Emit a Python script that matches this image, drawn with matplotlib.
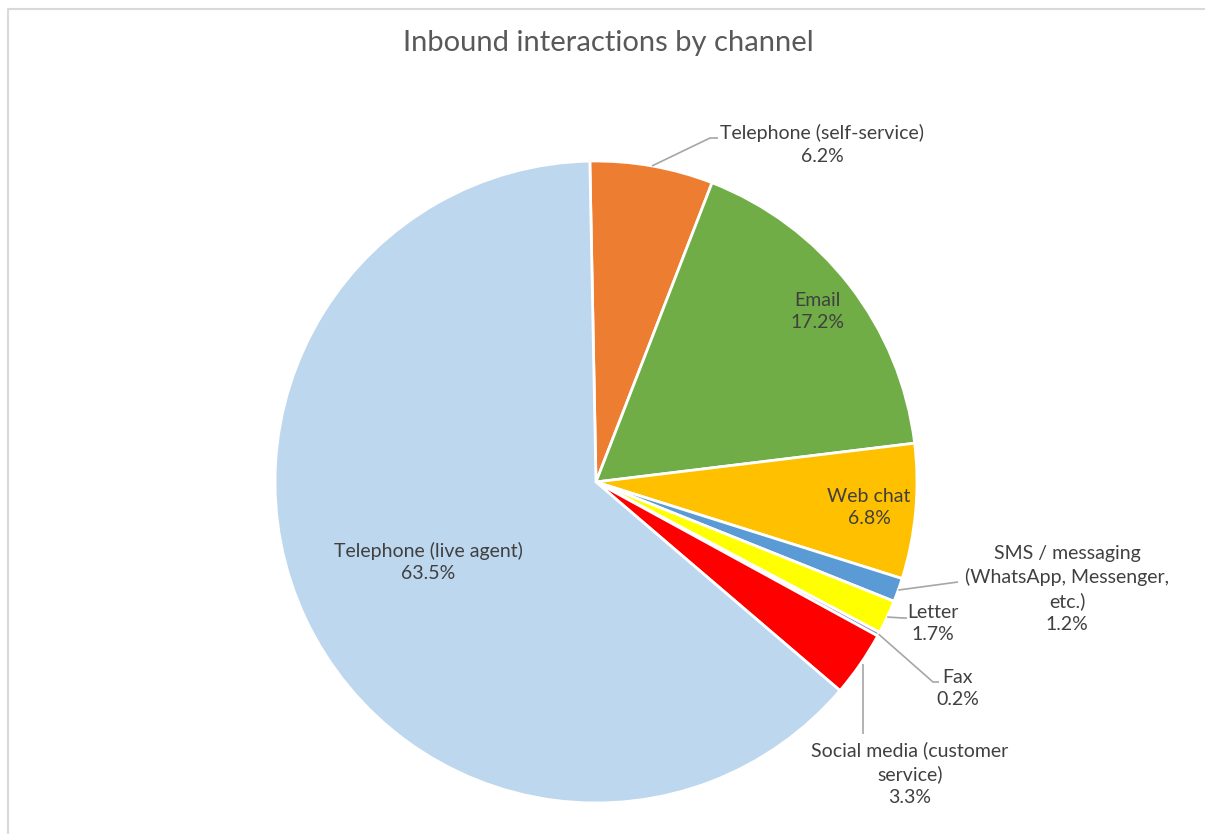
import numpy as np
import matplotlib
matplotlib.use("Agg")
import matplotlib.pyplot as plt

# Data
channels = ["Telephone (self-service)", "Email", "Web chat",
            "SMS / messaging\n(WhatsApp, Messenger,\netc.)", "Letter", "Fax",
            "Social media (customer\nservice)", "Telephone (live agent)"]
shares = [6.2, 17.2, 6.8, 1.2, 1.7, 0.2, 3.3, 63.5]
colors = ["#ED7D31", "#70AD47", "#FFC000", "#5B9BD5", "#FFFF00", "#9E86C8",
          "#FF0000", "#BDD7EE"]

W, H = 1205, 834
CX, CY, R = 596, H - 482, 321
TXT = "#404040"
plt.rcParams["font.family"] = ["Lato", "DejaVu Sans"]

fig = plt.figure(figsize=(W / 100, H / 100), dpi=100)
ax = fig.add_axes([0, 0, 1, 1])

wedges, _ = ax.pie(shares, colors=colors, startangle=91.1, counterclock=False,
                   center=(CX, CY), radius=R, frame=True,
                   wedgeprops=dict(edgecolor="white", linewidth=2))
ax.set_xlim(0, W)
ax.set_ylim(0, H)
ax.set_aspect("equal", adjustable="box")
ax.axis("off")

# label placement (image pixel coords: centre x, centre y), leader path after the wedge edge
label_pos = {
    0: ((822, 144.5), [(710, 138), (718, 138)]),
    1: ((817, 311.5), None),
    2: ((869, 507.5), None),
    3: ((1067, 589), [(958, 582)]),
    4: ((933, 623.5), [(903, 618), (907, 618)]),
    5: ((958, 688.5), [(933, 682), (939, 682)]),
    6: ((910, 773.5), "vertical"),
    7: ((428, 562), None),
}

for i, w in enumerate(wedges):
    (lx, ly), leader = label_pos[i]
    ax.text(lx, H - ly, f"{channels[i]}\n{shares[i]:.1f}%", ha="center", va="center",
            fontsize=14, color=TXT, linespacing=1.42)
    if leader is None:
        continue
    mid = np.deg2rad((w.theta1 + w.theta2) / 2)
    sx, sy = CX + R * np.cos(mid), CY + R * np.sin(mid)
    if leader == "vertical":
        pts = [(sx + 3, sy), (sx + 3, H - 734)]
    else:
        pts = [(sx, sy)] + [(px, H - py) for px, py in leader]
    xs, ys = zip(*pts)
    ax.plot(xs, ys, color="#A6A6A6", lw=1.2, solid_capstyle="butt")

ax.text(608, H - 43, "Inbound interactions by channel", ha="center", va="center",
        fontsize=21, color="#595959")

# chart frame
ax.plot([8, 8, W], [0, H - 9, H - 9], color="#D9D9D9", lw=1.5)

fig.savefig("out.png", dpi=100)
